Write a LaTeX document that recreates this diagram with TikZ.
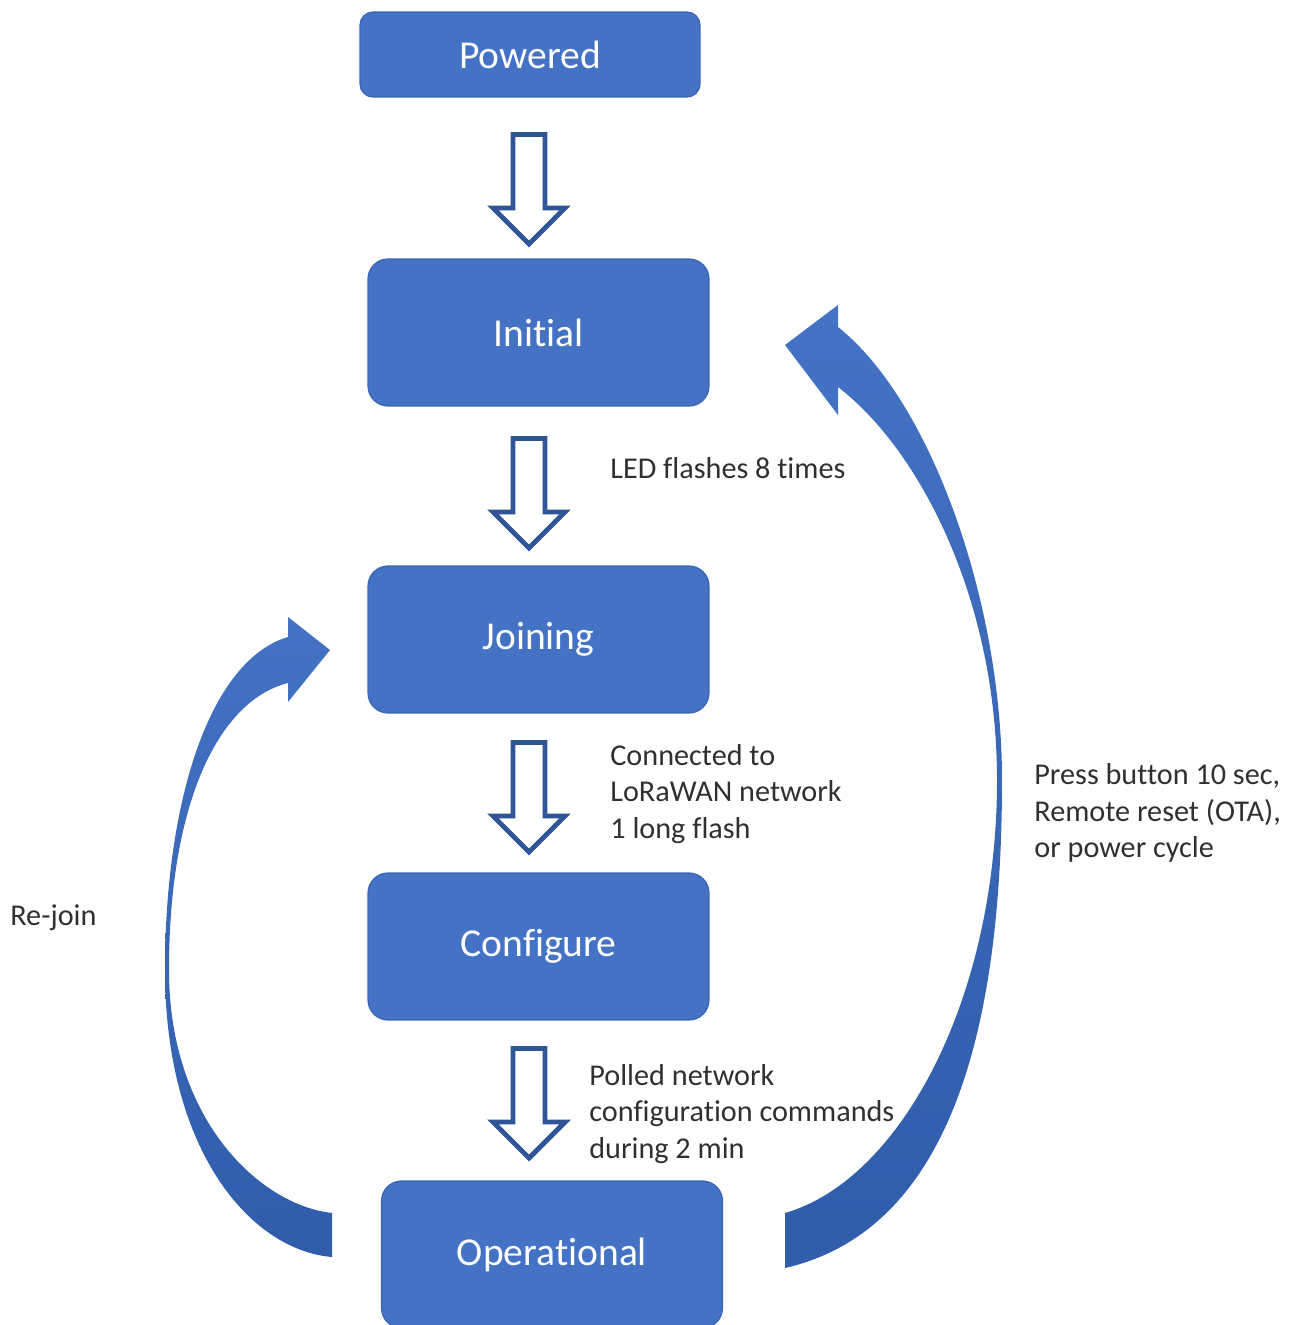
\documentclass[tikz,border=0pt]{standalone}
\usepackage{fontspec}
\setmainfont{Carlito}[RawFeature={-liga;-clig;-dlig;-rlig;-calt}]
\usetikzlibrary{positioning}

\definecolor{boxblue}{HTML}{4472C4}
\definecolor{boxedge}{HTML}{3A64B2}
\definecolor{arrowedge}{HTML}{2F5597}
\definecolor{curvetop}{HTML}{4472C4}
\definecolor{curvebot}{HTML}{2F5DAA}
\definecolor{txt}{HTML}{303030}

\tikzset{
  state/.style={draw=boxedge, line width=0.7pt, fill=boxblue, rounded corners=0.4cm,
    minimum width=6.82cm, minimum height=2.94cm, text=white,
    font=\fontsize{22.5}{27}\selectfont},
  hollow/.style={draw=arrowedge, fill=white, line width=2.8pt, line join=miter},
  note/.style={text=txt, align=left, anchor=west, inner sep=0pt,
    font=\fontsize{17.2}{21}\selectfont},
  curved/.style={top color=curvetop, bottom color=curvebot},
  hollowdown/.pic={
    \draw[hollow] (-16,2.5) -- (-16,76) -- (-36,76) -- (0,112) -- (36,76)
      -- (16,76) -- (16,2.5) -- cycle;
  }
}

\begin{document}
\begin{tikzpicture}[x=0.02cm, y=-0.02cm]
\useasboundingbox (0,0) rectangle (1303,1325);

% states
\node[state, minimum width=6.8cm, minimum height=1.7cm, rounded corners=0.26cm] (pw) at (530,54.5) {Powered};
\node[state] (ini) at (538.5,332.5) {Initial};
\node[state] (join) at (538.5,639.5) {Joining};
\node[state] (conf) at (538.5,946.5) {Configure};
\node[state] (oper) at (552,1254.5) {Operational};

% hollow arrows between states
\pic at (529,132) {hollowdown};
\pic at (529,436) {hollowdown};
\pic at (529,740) {hollowdown};
\pic at (529,1046) {hollowdown};

% labels of the steps
\node[note] (led) at (610,468) {LED flashes 8 times};
\node[note] (con) at (610,794) {Connected to\\LoRaWAN network\\1 long flash};
\node[note] (pol) at (589,1114) {Polled network\\configuration commands\\during 2 min};
\node[note] (rst) at (1034,813) {Press button 10 sec,\\Remote reset (OTA),\\or power cycle};
\node[note] (rej) at (10,918) {Re-join};

% curved arrow back to Initial
\shade[curved] (785,1213) .. controls (900,1180) and (997,1000) .. (997,780)
  .. controls (997,600) and (920,450) .. (838,387)
  -- (838,415) -- (785,345) -- (838,305) -- (838,327)
  .. controls (930,400) and (1002,600) .. (1002,780)
  .. controls (1002,1030) and (950,1230) .. (785,1268) -- cycle;

% curved arrow back to Joining
\shade[curved] (332,1213) .. controls (260,1205) and (169,1120) .. (169,970)
  .. controls (169,800) and (220,700) .. (288,683)
  -- (288,702) -- (330,650) -- (288,617) -- (288,637)
  .. controls (210,660) and (165,800) .. (165,970)
  .. controls (165,1150) and (250,1250) .. (332,1257) -- cycle;

\end{tikzpicture}
\end{document}
